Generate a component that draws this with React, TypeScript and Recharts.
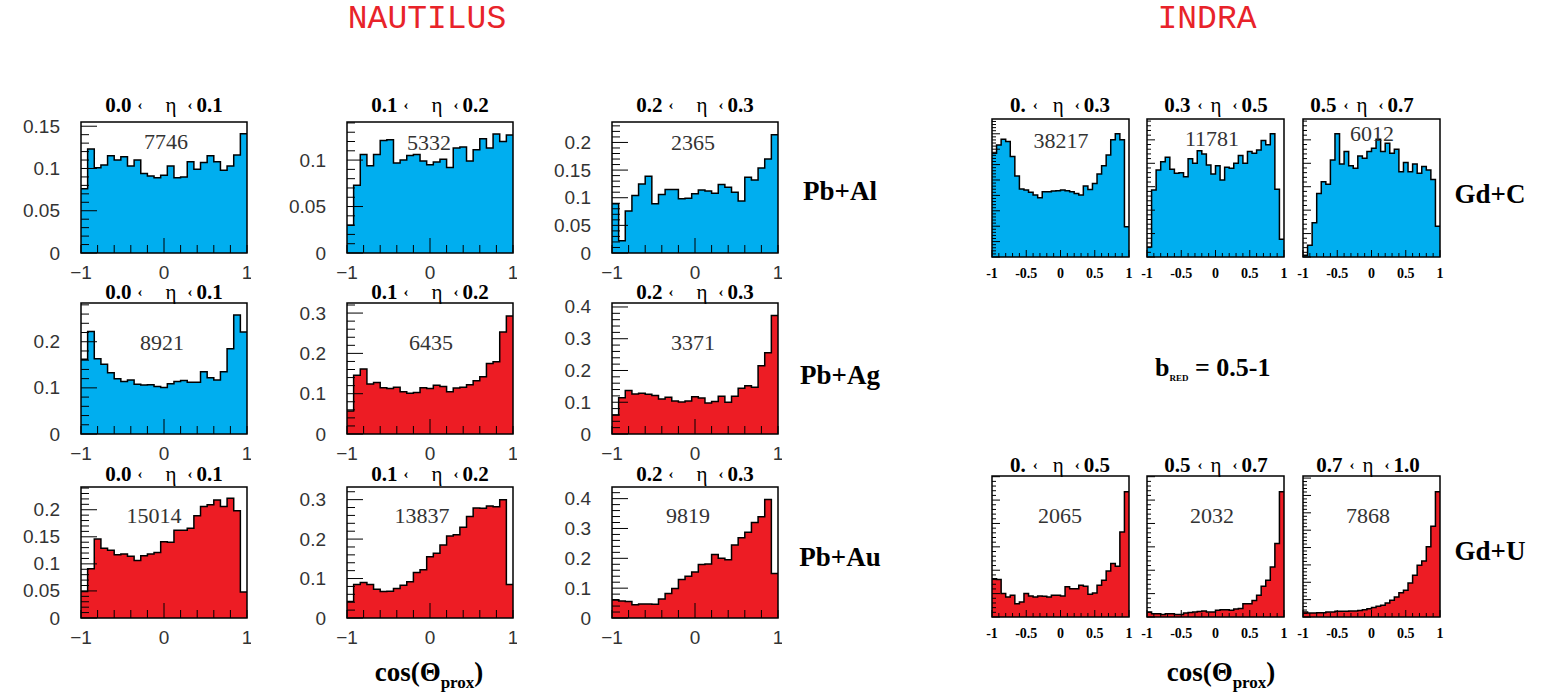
import React from 'react';
import { AreaChart, Area, XAxis, YAxis, ReferenceArea } from 'recharts';

const BLUE = '#00AEEF';
const RED = '#ED1C24';
const SERIF = '"Liberation Serif", "Times New Roman", serif';
const SANS = '"Liberation Sans", Arial, sans-serif';
const MONO = '"Liberation Mono", "Courier New", monospace';

// ---------- NAUTILUS (25 bins over cos(theta_prox) in [-1, 1]) ----------
const pbAl_00_01 = [0.076, 0.123, 0.101, 0.104, 0.115, 0.110, 0.114, 0.103, 0.110, 0.094, 0.091, 0.089, 0.092, 0.103, 0.089, 0.090, 0.108, 0.099, 0.107, 0.115, 0.108, 0.098, 0.103, 0.116, 0.141];
const pbAl_01_02 = [0.030, 0.073, 0.106, 0.094, 0.106, 0.121, 0.122, 0.097, 0.100, 0.105, 0.106, 0.099, 0.095, 0.098, 0.101, 0.092, 0.113, 0.114, 0.099, 0.111, 0.123, 0.113, 0.128, 0.120, 0.127];
const pbAl_02_03 = [0.089, 0.022, 0.076, 0.104, 0.125, 0.139, 0.089, 0.106, 0.115, 0.115, 0.098, 0.099, 0.107, 0.114, 0.112, 0.108, 0.124, 0.119, 0.110, 0.094, 0.137, 0.132, 0.154, 0.170, 0.214];
const pbAg_00_01 = [0.162, 0.222, 0.163, 0.151, 0.133, 0.120, 0.114, 0.117, 0.108, 0.106, 0.107, 0.103, 0.101, 0.109, 0.114, 0.116, 0.112, 0.112, 0.135, 0.122, 0.117, 0.135, 0.185, 0.258, 0.221];
const pbAg_01_02 = [0.057, 0.146, 0.161, 0.124, 0.128, 0.115, 0.113, 0.116, 0.105, 0.101, 0.103, 0.115, 0.113, 0.121, 0.118, 0.105, 0.114, 0.116, 0.122, 0.132, 0.142, 0.175, 0.179, 0.253, 0.293];
const pbAg_02_03 = [0.060, 0.114, 0.137, 0.126, 0.128, 0.125, 0.121, 0.110, 0.116, 0.104, 0.101, 0.104, 0.117, 0.113, 0.098, 0.102, 0.119, 0.100, 0.119, 0.144, 0.152, 0.147, 0.215, 0.256, 0.373];
const pbAu_00_01 = [0.049, 0.091, 0.146, 0.129, 0.125, 0.117, 0.118, 0.114, 0.106, 0.115, 0.118, 0.121, 0.141, 0.140, 0.162, 0.162, 0.166, 0.189, 0.206, 0.209, 0.218, 0.206, 0.221, 0.198, 0.048];
const pbAu_01_02 = [0.042, 0.085, 0.090, 0.085, 0.073, 0.067, 0.068, 0.075, 0.083, 0.092, 0.115, 0.122, 0.155, 0.164, 0.185, 0.208, 0.211, 0.230, 0.257, 0.279, 0.278, 0.284, 0.282, 0.300, 0.085];
const pbAu_02_03 = [0.061, 0.057, 0.055, 0.044, 0.047, 0.047, 0.046, 0.064, 0.082, 0.099, 0.129, 0.140, 0.154, 0.179, 0.181, 0.213, 0.200, 0.195, 0.245, 0.269, 0.287, 0.320, 0.339, 0.397, 0.149];

// ---------- INDRA (30 bins, arbitrary units; no y labels in source) ----------
const gdC_00_03 = [6.74, 7.28, 7.65, 7.50, 6.52, 5.26, 4.41, 4.35, 4.20, 4.02, 3.85, 4.24, 4.24, 4.28, 4.30, 4.35, 4.30, 4.24, 4.13, 4.02, 4.61, 4.39, 4.78, 5.39, 5.93, 6.63, 7.61, 8.00, 7.61, 1.96];
const gdC_03_05 = [0.43, 2.86, 3.71, 4.07, 4.26, 3.74, 3.57, 3.60, 3.43, 4.19, 4.00, 4.54, 4.40, 3.93, 3.54, 3.89, 3.29, 3.83, 3.79, 4.00, 4.33, 4.00, 4.50, 4.43, 4.57, 4.97, 4.79, 5.26, 2.89, 0.76];
const gdC_05_07 = [0.07, 0.50, 1.46, 2.71, 3.21, 3.11, 4.14, 5.26, 3.97, 4.50, 3.89, 3.79, 4.31, 4.21, 4.50, 4.64, 5.03, 4.50, 4.86, 4.43, 4.60, 3.64, 4.03, 3.64, 3.97, 3.57, 3.86, 3.71, 3.31, 1.31];
const gdU_00_05 = [1.64, 1.60, 1.00, 0.86, 0.93, 0.57, 0.64, 1.00, 0.90, 0.86, 0.90, 0.89, 0.86, 0.93, 0.93, 0.90, 1.29, 1.21, 1.21, 1.36, 1.31, 0.97, 1.03, 1.36, 1.57, 1.97, 2.29, 2.17, 3.64, 5.36];
const gdU_05_07 = [0.21, 0.14, 0.14, 0.11, 0.14, 0.14, 0.11, 0.11, 0.17, 0.19, 0.21, 0.24, 0.26, 0.21, 0.21, 0.29, 0.31, 0.31, 0.29, 0.34, 0.36, 0.57, 0.57, 0.71, 0.93, 1.31, 1.57, 2.14, 3.14, 5.36];
const gdU_07_10 = [0.29, 0.23, 0.23, 0.25, 0.25, 0.29, 0.29, 0.33, 0.33, 0.33, 0.35, 0.35, 0.38, 0.42, 0.48, 0.54, 0.62, 0.67, 0.81, 0.96, 1.15, 1.40, 1.54, 1.96, 2.40, 2.98, 3.23, 4.04, 5.23, 7.21];

// tick labels
const nautXLabels = [-1, 0, 1];
const indraXLabels = [-1, -0.5, 0, 0.5, 1];

type Spec = {
  kind: 'naut' | 'indra';
  left: number; top: number; w: number; h: number;
  values: number[]; color: string;
  yMax: number; yLabels: number[]; yMinor: number;
  title: [string, string]; titleX: number; titleY: number; gap2: number;
  count: string; countX: number; countY: number;
};

const NC = [81, 347, 612];
const NR = [122, 303, 487];
const NW = 166, NH = 131;
const IC = [992, 1147, 1303];
const IR = [119, 476];
const IW = 137;
const IH = [138, 141];

const naut = (r: number, c: number, values: number[], color: string, yMax: number, yLabels: number[], yMinor: number, title: [string, string], count: string, cx: number, cy: number): Spec => ({
  kind: 'naut', left: NC[c], top: NR[r], w: NW, h: NH, values, color, yMax, yLabels, yMinor,
  title, titleX: NC[c] + NW / 2, titleY: [105, 292, 474][r], gap2: 23, count, countX: cx, countY: cy,
});
const indra = (r: number, c: number, values: number[], color: string, yMax: number, title: [string, string], titleX: number, gap2: number, count: string, cx: number, cy: number): Spec => {
  const labels: number[] = [];
  for (let k = 0; k <= Math.floor(yMax); k++) labels.push(k);
  return {
    kind: 'indra', left: IC[c], top: IR[r], w: IW, h: IH[r], values, color, yMax, yLabels: labels, yMinor: 0.2,
    title, titleX, titleY: [105, 465][r], gap2, count, countX: cx, countY: cy,
  };
};

const SPECS: Spec[] = [
  naut(0, 0, pbAl_00_01, BLUE, 0.155, [0, 0.05, 0.1, 0.15], 0.01, ['0.0', '0.1'], '7746', 166, 141),
  naut(0, 1, pbAl_01_02, BLUE, 0.141, [0, 0.05, 0.1], 0.01, ['0.1', '0.2'], '5332', 429, 142),
  naut(0, 2, pbAl_02_03, BLUE, 0.237, [0, 0.05, 0.1, 0.15, 0.2], 0.01, ['0.2', '0.3'], '2365', 693, 142),
  naut(1, 0, pbAg_00_01, BLUE, 0.284, [0, 0.1, 0.2], 0.02, ['0.0', '0.1'], '8921', 162, 342),
  naut(1, 1, pbAg_01_02, RED, 0.325, [0, 0.1, 0.2, 0.3], 0.02, ['0.1', '0.2'], '6435', 431, 342),
  naut(1, 2, pbAg_02_03, RED, 0.4125, [0, 0.1, 0.2, 0.3, 0.4], 0.02, ['0.2', '0.3'], '3371', 693, 342),
  naut(2, 0, pbAu_00_01, RED, 0.242, [0, 0.05, 0.1, 0.15, 0.2], 0.01, ['0.0', '0.1'], '15014', 154, 515),
  naut(2, 1, pbAu_01_02, RED, 0.332, [0, 0.1, 0.2, 0.3], 0.02, ['0.1', '0.2'], '13837', 422, 515),
  naut(2, 2, pbAu_02_03, RED, 0.439, [0, 0.1, 0.2, 0.3, 0.4], 0.02, ['0.2', '0.3'], '9819', 688, 515),
  indra(0, 0, gdC_00_03, BLUE, 8.96, ['0.', '0.3'], 1060, 15, '38217', 1061, 140),
  indra(0, 1, gdC_03_05, BLUE, 5.89, ['0.3', '0.5'], 1216, 8, '11781', 1212, 138),
  indra(0, 2, gdC_05_07, BLUE, 5.89, ['0.5', '0.7'], 1362, 8, '6012', 1372, 133),
  indra(1, 0, gdU_00_05, RED, 6.03, ['0.', '0.5'], 1060, 15, '2065', 1060, 515),
  indra(1, 1, gdU_05_07, RED, 6.03, ['0.5', '0.7'], 1216, 8, '2032', 1212, 515),
  indra(1, 2, gdU_07_10, RED, 8.12, ['0.7', '1.0'], 1368, 8, '7868', 1368, 515),
];

const ML = 78, MR = 4, MT = 16, MB = 36;

function stepTicks(from: number, to: number, step: number) {
  const out: number[] = [];
  const n = Math.round((to - from) / step);
  for (let k = 0; k <= n; k++) {
    const v = Math.round((from + k * step) * 10000) / 10000;
    if (v <= to + 1e-9) out.push(v);
  }
  return out;
}
const near = (arr: number[], v: number) => arr.some((a) => Math.abs(a - v) < 1e-6);

function HistPanel({ s }: { s: Spec }) {
  const n = s.values.length;
  const data = s.values.map((v, i) => ({ x: -1 + (2 * i) / n, y: v }));
  data.push({ x: 1, y: s.values[n - 1] });
  const isN = s.kind === 'naut';
  const xTicks = stepTicks(-1, 1, isN ? 0.2 : 0.1);
  const xLabels = isN ? nautXLabels : indraXLabels;
  const yTicks = stepTicks(0, s.yMax, s.yMinor);
  const TMY = isN ? 21 : 10;
  const TMX = isN ? 19 : 16;

  const yTick = (p: any) => {
    const v = p.payload.value;
    const major = near(s.yLabels, v);
    const ax = p.x + TMY;
    const len = isN ? (major ? 16 : 8) : (major ? 8 : 4);
    return (
      <g>
        <line x1={ax} x2={ax + len} y1={p.y} y2={p.y} stroke="#000" strokeWidth={1} />
        {isN && major ? (
          <text x={p.x} y={p.y} textAnchor="end" dominantBaseline="central" fontFamily={SANS} fontSize={19} fill="#333">
            {v === 0 ? '0' : String(v)}
          </text>
        ) : null}
      </g>
    );
  };
  const xTick = (p: any) => {
    const v = p.payload.value;
    const major = near(xLabels, v);
    const ay = p.y - TMX;
    const len = isN ? (Math.abs(v) < 1e-6 ? 15 : 8) : (major ? 7 : 4);
    const label = isN ? (v < 0 ? '\u2212' + Math.abs(v) : String(v)) : String(v);
    return (
      <g>
        <line x1={p.x} x2={p.x} y1={ay} y2={ay - len} stroke="#000" strokeWidth={1} />
        {major ? (
          <text x={p.x} y={p.y} textAnchor="middle" dominantBaseline="central"
            fontFamily={isN ? SANS : SERIF} fontWeight={isN ? 'normal' : 'bold'} fontSize={isN ? 19 : 14} fill={isN ? '#333' : '#000'}>
            {label}
          </text>
        ) : null}
      </g>
    );
  };

  return (
    <div style={{ position: 'absolute', left: s.left - ML, top: s.top - MT }}>
      <AreaChart width={s.w + ML + MR} height={s.h + MT + MB} data={data} margin={{ top: MT, right: MR, left: 0, bottom: 0 }}>
        <XAxis type="number" dataKey="x" domain={[-1, 1]} allowDataOverflow ticks={xTicks} interval={0}
          axisLine={false} tickLine={false} tickSize={0} tickMargin={TMX} height={MB} tick={xTick} />
        <YAxis type="number" domain={[0, s.yMax]} allowDataOverflow ticks={yTicks} interval={0}
          axisLine={false} tickLine={false} tickSize={0} tickMargin={TMY} width={ML} tick={yTick} />
        <Area type="stepAfter" dataKey="y" stroke="#000" strokeWidth={1.5} fill={s.color} fillOpacity={1}
          isAnimationActive={false} dot={false} activeDot={false} />
        <ReferenceArea x1={-1} x2={1} y1={0} y2={s.yMax} fill="none" stroke="#000" strokeWidth={1.5} ifOverflow="visible" />
      </AreaChart>
    </div>
  );
}

function Title({ s }: { s: Spec }) {
  const isN = s.kind === 'naut';
  return (
    <text x={s.titleX} y={s.titleY} textAnchor="middle" dominantBaseline="central" fontFamily={SERIF} fontWeight="bold" fontSize={21} fill="#000">
      <tspan>{s.title[0]}</tspan>
      <tspan dx={isN ? 6 : 7} fontSize={15}>{'\u2039'}</tspan>
      <tspan dx={s.gap2} fontWeight="normal">{'\u03b7'}</tspan>
      <tspan dx={11} fontSize={15}>{'\u2039'}</tspan>
      <tspan dx={4}>{s.title[1]}</tspan>
    </text>
  );
}

export default function App() {
  return (
    <div style={{ position: 'absolute', left: 0, top: 0, width: 1542, height: 698, background: '#fff', overflow: 'hidden' }}>
      {SPECS.map((s, i) => <HistPanel key={i} s={s} />)}
      <svg width={1542} height={698} style={{ position: 'absolute', left: 0, top: 0, pointerEvents: 'none' }}>
        <text x={427} y={19} textAnchor="middle" dominantBaseline="central" fontFamily={MONO} fontSize={33} fill="#E8232A">NAUTILUS</text>
        <text x={1207} y={19} textAnchor="middle" dominantBaseline="central" fontFamily={MONO} fontSize={33} fill="#E8232A">INDRA</text>
        {SPECS.map((s, i) => <Title key={'t' + i} s={s} />)}
        {SPECS.map((s, i) => (
          <text key={'c' + i} x={s.countX} y={s.countY} textAnchor="middle" dominantBaseline="central" fontFamily={SERIF} fontSize={22} fill="#333">{s.count}</text>
        ))}
        <text x={840} y={191} textAnchor="middle" dominantBaseline="central" fontFamily={SERIF} fontWeight="bold" fontSize={27}>Pb+Al</text>
        <text x={840} y={375} textAnchor="middle" dominantBaseline="central" fontFamily={SERIF} fontWeight="bold" fontSize={27}>Pb+Ag</text>
        <text x={840} y={557} textAnchor="middle" dominantBaseline="central" fontFamily={SERIF} fontWeight="bold" fontSize={27}>Pb+Au</text>
        <text x={1490} y={194} textAnchor="middle" dominantBaseline="central" fontFamily={SERIF} fontWeight="bold" fontSize={27}>Gd+C</text>
        <text x={1490} y={551} textAnchor="middle" dominantBaseline="central" fontFamily={SERIF} fontWeight="bold" fontSize={27}>Gd+U</text>
        <text x={1155} y={376} fontFamily={SERIF} fontWeight="bold" fontSize={26}>
          b<tspan fontSize={9} dy={5}>RED</tspan><tspan dy={-5}>{' = 0.5-1'}</tspan>
        </text>
        {[429, 1221].map((cx, i) => (
          <text key={'cos' + i} x={cx} y={681} textAnchor="middle" fontFamily={SERIF} fontWeight="bold" fontSize={27}>
            cos(Θ<tspan fontSize={17} dy={7}>prox</tspan><tspan dy={-7}>)</tspan>
          </text>
        ))}
      </svg>
    </div>
  );
}
